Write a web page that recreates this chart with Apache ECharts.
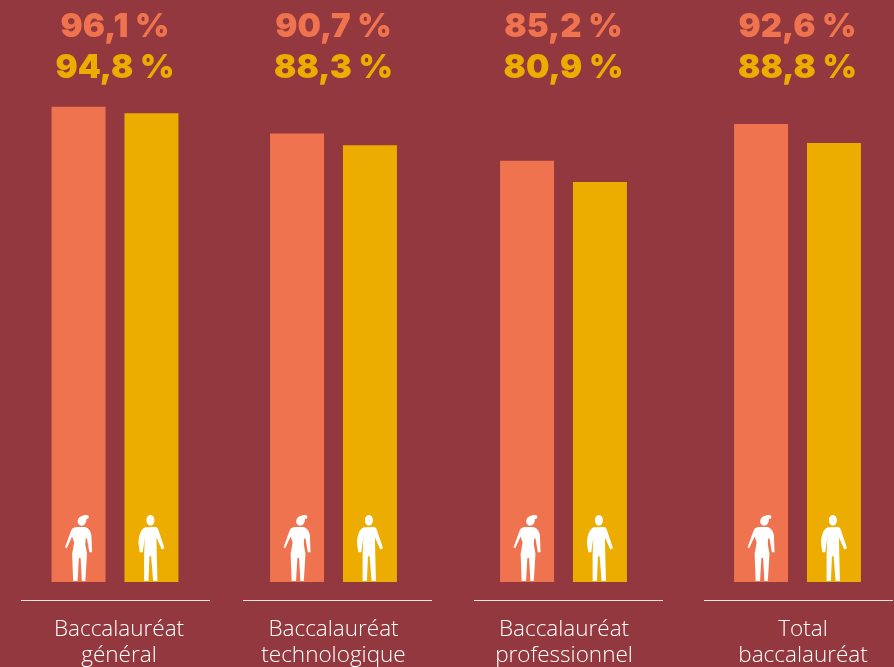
<!DOCTYPE html>
<html><head><meta charset="utf-8">
<style>html,body{margin:0;padding:0;background:#92383e}#c{width:894px;height:667px}</style>
<script src="https://cdn.jsdelivr.net/npm/echarts@6/dist/echarts.min.js"></script>
</head><body><div id="c"></div>
<script>
const categories = ['Baccalauréat\ngénéral','Baccalauréat\ntechnologique','Baccalauréat\nprofessionnel','Total\nbaccalauréat'];
const femmes = [96.1, 90.7, 85.2, 92.6];
const hommes = [94.8, 88.3, 80.9, 88.8];

const BG='#92383e', ORANGE='#f0734f', YELLOW='#ecac00', WHITE='#ffffff';
const centers=[115,333.5,563.5,797.5];
const rules=[[21,210],[243,432],[474,663],[704,893]];
const labelShift=[8,0,1,11];
const FONT_NUM='Inter', FONT_TXT='"Open Sans"';
const maleIcon='path://M36 0C43 0 48 7 48 16C48 25 43 32 36 32C29 32 24 25 24 16C24 7 29 0 36 0ZM20 37L52 36C56 37 58 40 60 45L78 100L70 104L54 68L55 120L57 199L44 199L38 124L33 124L30 199L17 199L17 120L19 68L13 112L4 112L0 85C1 62 6 44 20 37Z';
const femaleIcon='path://M63 2C69 2 72 6 70 10C68 13 65 14 63 14C64 24 58 34 50 34C40 34 36 25 38 17C40 9 50 2 63 2ZM32 38L60 38C70 42 76 50 78 62L80 113L72 113L65 72L61 72L60 90L65 118L60 199L50 199L46 130L41 130L37 199L24 199L21 118L27 84L21 66L5 101L0 98L18 48C21 42 26 39 32 38Z';

const grid=[],xAxis=[],yAxis=[],series=[],graphic=[];
categories.forEach((cat,i)=>{
  const c=centers[i];
  grid.push({left:c-90,width:180,top:87.5,height:494.5,outerBoundsMode:'none',containLabel:false});
  xAxis.push({gridIndex:i,type:'category',data:[cat],
    axisLine:{show:false},axisTick:{show:false},
    axisLabel:{interval:0,color:WHITE,fontFamily:FONT_TXT,fontWeight:300,fontSize:22.5,lineHeight:26,margin:35,hideOverlap:false,
      padding:[0,0,0,labelShift[i]]}});
  yAxis.push({gridIndex:i,type:'value',min:0,max:100,show:false});
  series.push(
    {type:'bar',xAxisIndex:i,yAxisIndex:i,barWidth:54,barGap:'35%',data:[femmes[i]],itemStyle:{color:ORANGE},silent:true},
    {type:'bar',xAxisIndex:i,yAxisIndex:i,barWidth:54,barGap:'35%',data:[hommes[i]],itemStyle:{color:YELLOW},silent:true},
    {type:'pictorialBar',xAxisIndex:i,yAxisIndex:i,barWidth:54,barGap:'35%',z:5,symbol:femaleIcon,symbolSize:[27,66],symbolPosition:'start',symbolRepeat:false,symbolOffset:[0,-1],data:[femmes[i]],itemStyle:{color:WHITE},silent:true},
    {type:'pictorialBar',xAxisIndex:i,yAxisIndex:i,barWidth:54,barGap:'35%',z:5,symbol:maleIcon,symbolSize:[26,66],symbolPosition:'start',symbolRepeat:false,symbolOffset:[0,-1],data:[hommes[i]],itemStyle:{color:WHITE},silent:true}
  );
  const fmt=v=>v.toFixed(1).replace('.',',')+' %';
  graphic.push(
    {type:'text',x:c,y:27.5,style:{text:fmt(femmes[i]),fill:ORANGE,font:'900 33px '+FONT_NUM,textAlign:'center',textVerticalAlign:'middle'}},
    {type:'text',x:c,y:68.5,style:{text:fmt(hommes[i]),fill:YELLOW,font:'900 33px '+FONT_NUM,textAlign:'center',textVerticalAlign:'middle'}},
    {type:'line',shape:{x1:rules[i][0],y1:600.5,x2:rules[i][1],y2:600.5},style:{stroke:'#f3e3e3',lineWidth:1}}
  );
});
const chart=echarts.init(document.getElementById('c'),null,{renderer:'canvas'});
chart.setOption({backgroundColor:BG,animation:false,grid,xAxis,yAxis,series,graphic});
</script></body></html>
